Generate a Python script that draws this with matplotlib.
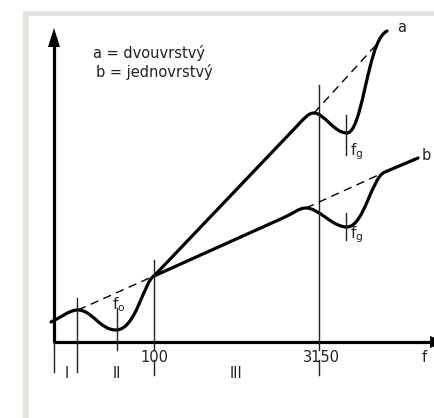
import matplotlib
matplotlib.use('Agg')
import matplotlib.pyplot as plt
from matplotlib.path import Path
from matplotlib.patches import PathPatch, Rectangle

# schematic coordinates: x = position along f axis, y = level (origin at axes corner)
M, L, C = Path.MOVETO, Path.LINETO, Path.CURVE4

# shared low-frequency part (regions I and II), cubic bezier control points
low_x = [-3, 6, 15, 24, 38, 46, 62, 82, 90, 100]
low_y = [20, 24, 32, 32, 32, 12, 12, 12, 61, 66]
low_codes = [M, C, C, C, C, C, C, C, C, C]

# curve a (dvouvrstvy)
a_x = [100, 243, 250, 254, 260, 270, 280, 293, 303, 309, 316, 320, 325, 333]
a_y = [66, 216, 223.3, 229, 229, 229, 209, 209, 209, 248, 275, 291, 307, 311]
a_codes = [M, L, C, C, C, C, C, C, C, C, C, C, C, C]

# curve b (jednovrstvy)
b_x = [100, 230, 240, 245, 252, 265, 278, 293, 310, 318, 331, 364]
b_y = [66, 124.5, 129, 134, 134, 134, 115, 115, 115, 165.7, 170, 184]
b_codes = [M, L, C, C, C, C, C, C, C, C, C, L]

# dashed extrapolations
dash_lines = [((24, 100), (32, 66)), ((260, 323), (229, 298)), ((252, 331), (134, 170))]

# vertical marker lines (x, y_bottom, y_top)
vlines = [(0, -30, 0), (23, -30, 44), (63, -8, 34), (100, -8, 82), (265, -8, 257),
          (292, 187, 227), (292, 102, 129)]
vdash = [(100, -18, -33), (265, -18, -33)]

tick_labels = ['100', '3150', 'f']
tick_pos = [100, 267, 370]
region_labels = ['I', 'II', 'III']
region_pos = [13, 63, 182]

fig = plt.figure(figsize=(4.34, 4.18), dpi=100)
ax = fig.add_axes([0, 0, 1, 1])
ax.set_xlim(-54, 380)
ax.set_ylim(-76, 342)
ax.axis('off')

# beige frame
frame_col = '#e6e3dc'
ax.add_patch(Rectangle((-31, 326), 420, 5, color=frame_col, lw=0, clip_on=True))
ax.add_patch(Rectangle((-31, -80), 6, 411, color=frame_col, lw=0, clip_on=True))

# axes with arrows
ax.plot([0, 0], [0, 298], color='black', lw=2.3, solid_capstyle='butt')
ax.fill([-6, 6, 0], [295, 295, 314], color='black', lw=0)
ax.plot([-1, 378], [0, 0], color='black', lw=2.3, solid_capstyle='butt')
ax.fill([376, 376, 392], [-6, 6, 0], color='black', lw=0)

for x, y0, y1 in vlines:
    ax.plot([x, x], [y0, y1], color='#222222', lw=1.0)
for x, y0, y1 in vdash:
    ax.plot([x, x], [y0, y1], color='#222222', lw=1.0)

for xs, ys in dash_lines:
    ax.plot(xs, ys, color='black', lw=1.0, ls=(0, (6, 4)))

for xs, ys, codes in [(low_x, low_y, low_codes), (a_x, a_y, a_codes), (b_x, b_y, b_codes)]:
    path = Path(list(zip(xs, ys)), codes)
    ax.add_patch(PathPatch(path, fill=False, lw=2.3, edgecolor='black',
                           capstyle='round', joinstyle='round'))

fs = 10.5
for lab, x in zip(tick_labels, tick_pos):
    ax.text(x, -15, lab, ha='center', va='center', fontsize=fs, color='#222222')
for lab, x in zip(region_labels, region_pos):
    ax.text(x, -31, lab, ha='center', va='center', fontsize=fs, color='#222222')

ax.text(65, 37, r'f$_{\rm o}$', ha='center', va='center', fontsize=fs + 0.5, color='#222222')
ax.text(296, 190, r'f$_{\rm g}$', ha='left', va='center', fontsize=fs + 0.5, color='#222222')
ax.text(296, 107, r'f$_{\rm g}$', ha='left', va='center', fontsize=fs + 0.5, color='#222222')
ax.text(343, 314, 'a', ha='left', va='center', fontsize=fs, color='#222222')
ax.text(368, 187, 'b', ha='left', va='center', fontsize=fs, color='#222222')

ax.text(39, 289, 'a = dvouvrstvý', ha='left', va='center', fontsize=fs, color='#222222')
ax.text(42, 270, 'b = jednovrstvý', ha='left', va='center', fontsize=fs, color='#222222')

fig.savefig('out.png', dpi=100, facecolor='white')
